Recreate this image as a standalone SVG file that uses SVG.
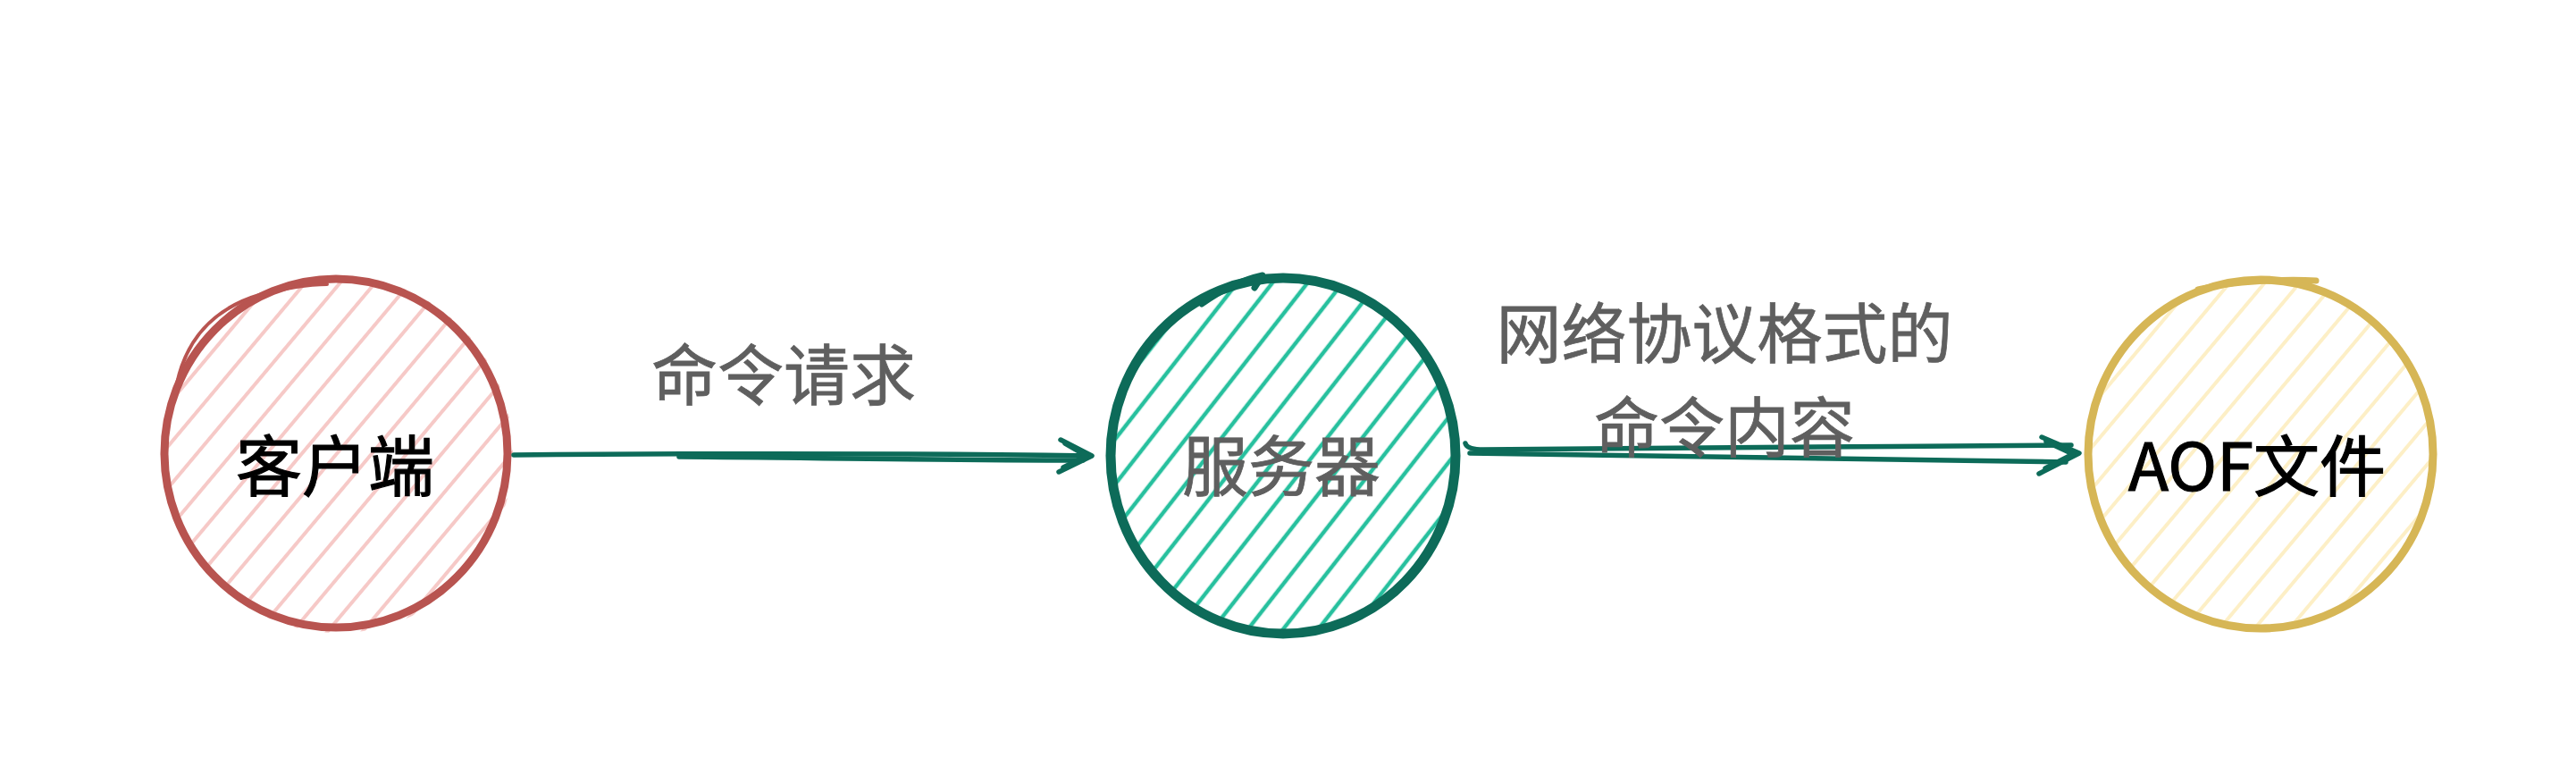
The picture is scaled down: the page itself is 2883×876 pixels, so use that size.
<svg xmlns="http://www.w3.org/2000/svg" width="2883" height="876" viewBox="0 0 2883 876">
<style>
.txt{font-family:"Noto Sans CJK SC","Liberation Sans",sans-serif;font-size:74px;font-weight:400;text-anchor:middle;dominant-baseline:central}
.dark{fill:#000;stroke:#000;stroke-width:1.2}
.gray{fill:#5f5f5f;stroke:#5f5f5f;stroke-width:0.8}
.ring{fill:none;stroke-linecap:round;stroke-linejoin:round}
.conn{fill:none;stroke:#0d6b59;stroke-width:5.5;stroke-linecap:round;stroke-linejoin:round}
</style>
<defs>
<pattern id="hatchRed" width="30" height="30" patternUnits="userSpaceOnUse" patternTransform="rotate(-50)">
<line x1="0" y1="15" x2="30" y2="15" stroke="#f6c9c7" stroke-width="4"/>
</pattern>
<pattern id="hatchTeal" width="31" height="31" patternUnits="userSpaceOnUse" patternTransform="rotate(-52)">
<line x1="0" y1="15" x2="31" y2="15" stroke="#27c09e" stroke-width="4.5"/>
</pattern>
<pattern id="hatchYellow" width="30" height="30" patternUnits="userSpaceOnUse" patternTransform="rotate(-50)">
<line x1="0" y1="15" x2="30" y2="15" stroke="#fdefc6" stroke-width="4"/>
</pattern>
</defs>
<rect width="2883" height="876" fill="#ffffff"/>

<g id="client">
<ellipse cx="378" cy="508" rx="196" ry="200" fill="url(#hatchRed)"/>
<ellipse class="ring" cx="376" cy="507" rx="192" ry="195" stroke="#b85450" stroke-width="9"/>
<path class="ring" d="M196,440 C205,380 240,345 290,330 C320,322 345,318 366,318" stroke="#b85450" stroke-width="4"/>
<text class="txt dark" x="375" y="516">客户端</text>
</g>

<g id="server">
<ellipse cx="1436" cy="510" rx="196" ry="202" fill="url(#hatchTeal)"/>
<ellipse class="ring" cx="1436" cy="510" rx="193" ry="199" stroke="#0d6b59" stroke-width="11"/>
<path class="ring" d="M1345,340 C1370,322 1395,312 1413,308 L1404,322" stroke="#0d6b59" stroke-width="7"/>
<text class="txt gray" x="1434" y="516">服务器</text>
</g>

<g id="aof">
<ellipse cx="2530" cy="509" rx="196" ry="198" fill="url(#hatchYellow)"/>
<ellipse class="ring" cx="2530" cy="508" rx="193" ry="195" stroke="#d6b656" stroke-width="9"/>
<path class="ring" d="M2460,324 C2500,314 2560,312 2592,314" stroke="#d6b656" stroke-width="7"/>
<text class="txt dark" x="2526" y="516">AOF文件</text>
</g>

<g id="connectors">
<path class="conn" d="M575,509 C800,507 1000,507 1220,510"/>
<path class="conn" d="M760,511 C900,512 1050,515 1212,515"/>
<path class="conn" d="M1187,492 L1222,510 L1185,528"/>
<path class="conn" d="M1192,496 L1216,510 L1190,523"/>
<path class="conn" d="M1640,496 Q1642,503 1660,503 C1900,502 2100,499 2318,498"/>
<path class="conn" d="M1645,507 C1900,509 2100,514 2312,517"/>
<path class="conn" d="M2285,489 L2327,507 L2282,530"/>
<path class="conn" d="M2290,494 L2320,508 L2289,524"/>
</g>

<g id="labels">
<text class="txt gray" x="877" y="414">命令请求</text>
<text class="txt gray" x="1930" y="368" style="font-size:73px">网络协议格式的<tspan x="1930" dy="105">命令内容</tspan></text>
</g>
</svg>
